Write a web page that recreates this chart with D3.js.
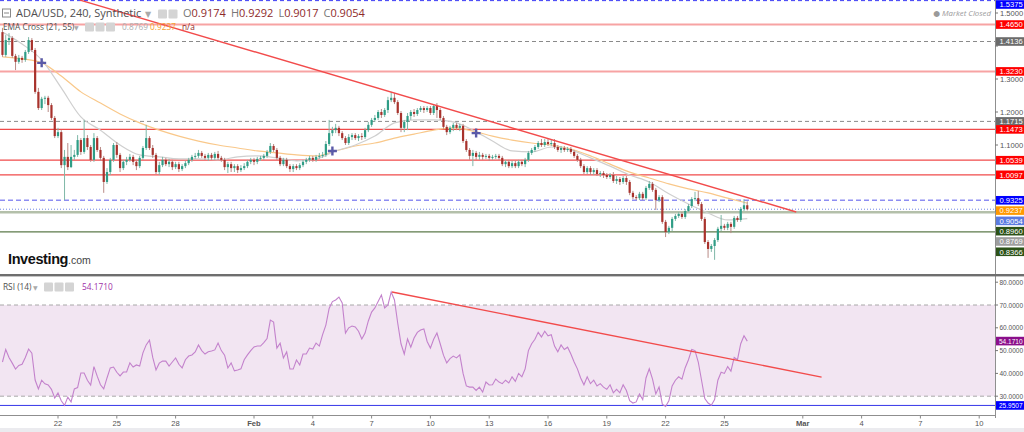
<!DOCTYPE html>
<html><head><meta charset="utf-8">
<script src="https://cdn.jsdelivr.net/npm/d3@7"></script>
<style>
body{margin:0;background:#fff;overflow:hidden}
svg{display:block;font-family:"Open Sans","DejaVu Sans",sans-serif}
.ax{font-family:"Liberation Sans",Arial,sans-serif;font-size:7.6px}
.ax .sm{font-size:6.5px}
</style></head><body>
<svg id="c" width="1024" height="432"></svg>
<script>
// ── ADA/USD 4h candles, Jan 19 → Feb 26 2019 (open = previous close) ──
const firstOpen=1.442;
const closes=[1.373,1.418,1.424,1.370,1.352,1.364,1.358,1.382,1.418,1.388,
1.261,1.212,1.240,1.243,1.221,1.182,1.127,1.139,1.039,1.064,
1.033,1.064,1.070,1.115,1.079,1.121,1.094,1.055,1.121,1.085,
1.061,0.988,1.018,1.055,1.100,1.070,1.030,1.049,1.055,1.064,
1.049,1.036,1.061,1.091,1.121,1.091,1.070,1.018,1.039,1.055,
1.042,1.049,1.033,1.042,1.027,1.036,1.045,1.055,1.064,1.067,
1.076,1.067,1.061,1.070,1.061,1.073,1.061,1.055,1.033,1.042,
1.030,1.036,1.024,1.030,1.036,1.049,1.055,1.049,1.058,1.061,
1.067,1.079,1.097,1.085,1.061,1.042,1.055,1.036,1.027,1.036,
1.030,1.039,1.049,1.055,1.061,1.055,1.064,1.067,1.070,1.103,
1.136,1.145,1.152,1.136,1.121,1.106,1.124,1.130,1.121,1.127,
1.124,1.145,1.161,1.176,1.182,1.200,1.191,1.206,1.236,1.243,
1.230,1.197,1.152,1.170,1.188,1.200,1.194,1.206,1.212,1.206,
1.212,1.197,1.218,1.206,1.182,1.155,1.139,1.152,1.161,1.152,
1.158,1.112,1.085,1.067,1.076,1.064,1.070,1.064,1.067,1.061,
1.064,1.067,1.061,1.042,1.049,1.036,1.045,1.036,1.049,1.042,
1.055,1.076,1.085,1.094,1.106,1.100,1.109,1.103,1.106,1.094,
1.085,1.091,1.085,1.088,1.079,1.067,1.055,1.036,1.018,1.030,
1.018,1.024,1.012,1.015,1.009,1.003,1.009,0.991,0.997,0.988,
1.000,0.988,0.955,0.942,0.939,0.952,0.939,0.970,0.982,0.964,
0.933,0.942,0.867,0.836,0.849,0.876,0.885,0.891,0.882,0.900,
0.915,0.936,0.939,0.921,0.876,0.806,0.785,0.794,0.812,0.846,
0.855,0.849,0.861,0.852,0.879,0.873,0.906,0.9174,0.9054];
const highs=[1.455,1.433,1.439,1.430,1.376,1.373,1.370,1.388,1.427,1.424,
1.394,1.273,1.246,1.249,1.249,1.227,1.188,1.152,1.145,1.085,
1.106,1.100,1.085,1.130,1.121,1.176,1.130,1.100,1.136,1.127,
1.094,1.067,1.030,1.061,1.106,1.109,1.076,1.055,1.064,1.073,
1.070,1.055,1.067,1.097,1.161,1.127,1.100,1.076,1.049,1.064,
1.061,1.058,1.055,1.049,1.049,1.042,1.052,1.061,1.070,1.076,
1.085,1.082,1.073,1.076,1.076,1.079,1.082,1.067,1.061,1.049,
1.049,1.042,1.042,1.039,1.045,1.055,1.061,1.061,1.064,1.067,
1.073,1.085,1.106,1.103,1.091,1.067,1.061,1.061,1.042,1.042,
1.042,1.045,1.055,1.061,1.067,1.067,1.070,1.076,1.079,1.112,
1.176,1.155,1.164,1.158,1.142,1.127,1.133,1.136,1.136,1.133,
1.136,1.152,1.170,1.182,1.191,1.206,1.209,1.212,1.246,1.261,
1.258,1.236,1.203,1.176,1.197,1.206,1.209,1.212,1.218,1.218,
1.218,1.218,1.224,1.227,1.212,1.188,1.161,1.158,1.167,1.167,
1.164,1.164,1.118,1.091,1.085,1.082,1.079,1.076,1.073,1.073,
1.070,1.073,1.073,1.067,1.055,1.055,1.052,1.052,1.055,1.055,
1.061,1.082,1.091,1.100,1.112,1.118,1.118,1.118,1.115,1.118,
1.100,1.097,1.097,1.094,1.094,1.085,1.073,1.061,1.042,1.036,
1.036,1.030,1.030,1.021,1.021,1.015,1.015,1.018,1.006,1.003,
1.006,1.006,0.994,0.961,0.948,0.958,0.958,0.976,0.991,0.988,
0.970,0.948,0.948,0.873,0.855,0.882,0.891,0.897,0.897,0.906,
0.921,0.942,0.958,0.961,0.927,0.882,0.812,0.800,0.818,0.852,
0.888,0.861,0.867,0.867,0.885,0.885,0.912,0.936,0.9292];
const lows=[1.367,1.367,1.403,1.364,1.327,1.346,1.349,1.352,1.376,1.382,
1.255,1.206,1.206,1.224,1.200,1.176,1.121,1.121,1.030,0.933,
1.024,1.030,1.055,1.064,1.070,1.073,1.085,1.049,1.049,1.079,
1.052,0.955,0.982,1.009,1.049,1.061,1.018,1.024,1.039,1.049,
1.039,1.024,1.030,1.055,1.085,1.085,1.061,1.012,1.009,1.033,
1.036,1.033,1.024,1.027,1.018,1.021,1.030,1.039,1.049,1.058,
1.061,1.061,1.055,1.052,1.055,1.055,1.055,1.049,1.024,1.015,
1.018,1.018,1.015,1.018,1.024,1.030,1.042,1.039,1.042,1.052,
1.055,1.061,1.073,1.079,1.055,1.036,1.036,1.030,1.018,1.018,
1.024,1.024,1.033,1.042,1.049,1.049,1.049,1.058,1.061,1.064,
1.097,1.127,1.136,1.127,1.115,1.100,1.100,1.115,1.115,1.112,
1.115,1.118,1.139,1.155,1.170,1.176,1.182,1.185,1.197,1.230,
1.224,1.191,1.139,1.139,1.145,1.176,1.185,1.188,1.200,1.197,
1.200,1.191,1.191,1.182,1.176,1.149,1.130,1.133,1.142,1.145,
1.142,1.106,1.079,1.055,1.036,1.055,1.055,1.055,1.058,1.052,
1.055,1.058,1.055,1.036,1.033,1.030,1.030,1.030,1.030,1.036,
1.033,1.049,1.070,1.079,1.088,1.094,1.094,1.097,1.097,1.088,
1.079,1.076,1.079,1.079,1.073,1.061,1.049,1.030,1.012,1.012,
1.009,1.009,1.006,1.003,1.000,0.997,0.997,0.985,0.982,0.979,
0.982,0.979,0.948,0.936,0.933,0.933,0.933,0.933,0.964,0.958,
0.903,0.927,0.861,0.821,0.830,0.839,0.870,0.879,0.876,0.876,
0.897,0.909,0.930,0.915,0.870,0.800,0.758,0.776,0.752,0.806,
0.839,0.842,0.842,0.833,0.846,0.867,0.867,0.900,0.9017];

// EMA Cross (21, 55), one reading per day (every 6th candle)
const ema21=[1.442,1.406,1.358,1.273,1.185,1.145,1.100,1.070,1.064,1.058,1.058,1.055,1.064,
1.067,1.061,1.052,1.058,1.082,1.100,1.127,1.167,1.176,1.176,1.170,1.145,1.112,
1.082,1.079,1.094,1.085,1.061,1.036,1.009,0.988,0.952,0.921,0.894,0.873,0.8769];
const ema55=[1.367,1.361,1.349,1.309,1.261,1.227,1.194,1.167,1.145,1.127,1.112,1.100,1.091,
1.082,1.076,1.070,1.067,1.082,1.097,1.106,1.121,1.133,1.145,1.152,1.142,1.127,
1.115,1.106,1.100,1.088,1.067,1.042,1.018,1.000,0.982,0.967,0.955,0.939,0.9237];
const crossIdx=[12,101,145], crossPx=[1.349,1.082,1.136];

// RSI (14), per candle
const rsi=[45.0,50.5,47.0,44.5,41.9,43.5,44.0,47.0,50.7,48.9,
37.1,33.2,37.0,35.4,34.9,33.0,29.2,31.4,28.0,25.95,
29.6,27.5,33.2,33.8,40.2,40.2,37.0,34.9,43.0,38.8,
35.0,33.2,38.0,42.4,42.8,40.5,38.9,40.6,40.6,44.6,
42.8,43.7,43.2,49.0,52.5,54.6,47.0,41.5,44.5,45.4,
45.4,43.2,45.0,46.8,44.0,42.4,46.0,47.6,48.1,49.4,
52.5,50.0,48.5,49.5,49.8,50.3,53.3,50.0,48.0,42.4,
44.6,41.1,41.5,42.0,46.0,48.1,50.0,51.6,52.0,52.0,
53.5,55.3,63.4,62.5,51.1,53.3,46.8,49.4,41.9,41.9,
45.9,43.7,48.5,48.5,51.1,50.7,53.3,52.0,57.0,61.2,
68.5,71.5,72.2,73.5,70.9,57.7,60.0,60.8,60.4,58.5,
55.1,57.7,63.0,66.9,68.7,71.5,74.4,68.7,70.0,75.7,
72.2,62.0,53.0,48.5,55.1,51.5,55.5,58.0,59.0,59.5,
54.0,51.1,55.0,57.7,53.0,48.0,44.6,46.5,47.6,46.8,
48.1,40.0,34.5,34.0,34.0,32.5,34.0,31.8,36.2,34.9,
35.0,37.5,36.2,35.5,37.0,35.8,38.5,36.5,40.0,38.5,
42.0,50.0,53.0,55.0,58.0,56.0,58.5,56.5,57.0,52.0,
49.5,52.5,50.5,51.5,48.5,45.0,42.0,38.0,35.0,38.5,
35.5,37.0,34.5,35.5,34.0,33.0,35.0,31.5,33.0,31.5,
35.0,32.5,28.0,27.0,27.5,31.0,28.5,38.0,42.0,37.5,
31.0,34.0,26.5,25.5,28.0,34.5,37.0,38.5,37.5,42.5,
46.0,50.5,50.0,45.0,37.0,29.0,27.0,26.0,28.5,37.0,
40.5,40.0,43.0,41.0,47.0,46.0,53.0,56.5,54.171];

// horizontal levels drawn on the price pane
const levels=[1.5375,1.4650,1.4136,1.3230,1.1715,1.1473,1.0539,1.0097,0.9325,0.8960,0.8366];
const levelKind=["blue","pink","gray","pink","gray","red","red","red","lblue","sage","olive"];
const priceTicks=[1.5,1.4,1.3,1.2,1.1,1.0,0.9];
const rsiTicks=[80,70,60,50,40,30];
const rsiMinLine=25.9507;
// trend lines: [date, value] pairs
const trendPrice=[[new Date(2019,0,23,3),1.539],[new Date(2019,1,28,16),0.897]];
const trendRsi=[[new Date(2019,1,8,1),75.7],[new Date(2019,2,1,23),38.4]];
const dateTicks=[[2019,0,22],[2019,0,25],[2019,0,28],[2019,1,1],[2019,1,4],[2019,1,7],[2019,1,10],[2019,1,13],
  [2019,1,16],[2019,1,19],[2019,1,22],[2019,1,25],[2019,2,1],[2019,2,4],[2019,2,7],[2019,2,10]];
const monthNames=["Jan","Feb","Mar"];

const svg=d3.select("#c");
const PW=995, mainB=273, rsiT=277, rsiB=415;
const x=d3.scaleTime().domain([new Date(2019,0,19),new Date(2019,2,11)]).range([-0.8,998.8]);
const y=d3.scaleLinear().domain([1.5,1.1]).range([13,145]);
const yr=d3.scaleLinear().domain([70,30]).range([305,396.2]);
const tOf=i=>new Date(2019,0,19,4+4*i);

const defs=svg.append("defs");
defs.append("clipPath").attr("id","cm").append("rect").attr("x",0).attr("y",0).attr("width",PW).attr("height",mainB);
defs.append("clipPath").attr("id","cr").append("rect").attr("x",0).attr("y",rsiT).attr("width",PW).attr("height",rsiB-rsiT);

// ── price pane ──
const main=svg.append("g").attr("clip-path","url(#cm)");
const LS={blue:{c:"#3b3bf5",w:1,d:"4,3"},pink:{c:"#f7a3a3",w:2,d:null},gray:{c:"#8a8a8a",w:1,d:"4,3"},
  red:{c:"#f04a4a",w:1.3,d:null},lblue:{c:"#8d8df2",w:1.5,d:"5,3"},sage:{c:"#b4c0aa",w:2.5,d:null},olive:{c:"#5d7a4a",w:1.2,d:null}};
levels.forEach((v,i)=>{const s=LS[levelKind[i]];
  main.append("line").attr("x1",0).attr("x2",PW).attr("y1",y(v)).attr("y2",y(v))
    .attr("stroke",s.c).attr("stroke-width",s.w).attr("stroke-dasharray",s.d);});
// last price dotted
main.append("line").attr("x1",0).attr("x2",PW).attr("y1",y(closes[closes.length-1])).attr("y2",y(closes[closes.length-1]))
  .attr("stroke","#6f86e6").attr("stroke-width",1).attr("stroke-dasharray","1,2");

const emaX=k=>x(tOf(k*6));
const eLine=d3.line().x((d,k)=>emaX(k)).y(d=>y(d)).curve(d3.curveMonotoneX);
main.append("path").attr("d",eLine(ema55)).attr("fill","none").attr("stroke","#f9c88a").attr("stroke-width",1.2);
main.append("path").attr("d",eLine(ema21)).attr("fill","none").attr("stroke","#cfcfcf").attr("stroke-width",1.2);

const candles=closes.map((c,i)=>{const o=i?closes[i-1]:firstOpen;
  return {t:tOf(i),o,c,h:Math.max(highs[i],o,c),l:Math.min(lows[i],o,c)};});
const up="#2f9d86", dn="#a8322c";
const gc=main.append("g");
gc.selectAll("line").data(candles).join("line")
  .attr("x1",d=>x(d.t)).attr("x2",d=>x(d.t)).attr("y1",d=>y(d.h)).attr("y2",d=>y(d.l))
  .attr("stroke",d=>d.c>=d.o?"#7fb8a8":"#b98a86").attr("stroke-width",1);
gc.selectAll("rect").data(candles).join("rect")
  .attr("x",d=>x(d.t)-1.1).attr("width",2.2)
  .attr("y",d=>y(Math.max(d.o,d.c))).attr("height",d=>Math.max(1,Math.abs(y(d.o)-y(d.c))))
  .attr("fill",d=>d.c>=d.o?up:dn);

main.append("line").attr("x1",x(trendPrice[0][0])).attr("y1",y(trendPrice[0][1]))
  .attr("x2",x(trendPrice[1][0])).attr("y2",y(trendPrice[1][1])).attr("stroke","#f24b4b").attr("stroke-width",1.4);

crossIdx.forEach((ix,k)=>{const cx=x(tOf(ix)),cy=y(crossPx[k]);
  main.append("path").attr("d",`M${cx-4.5},${cy}H${cx+4.5}M${cx},${cy-4.5}V${cy+4.5}`)
    .attr("stroke","#5a5aa8").attr("stroke-width",2.4);});

// ── RSI pane ──
const rp=svg.append("g").attr("clip-path","url(#cr)");
rp.append("rect").attr("x",0).attr("width",PW).attr("y",yr(70)).attr("height",yr(30)-yr(70)).attr("fill","#f2e5f2");
[70,30].forEach(v=>rp.append("line").attr("x1",0).attr("x2",PW).attr("y1",yr(v)).attr("y2",yr(v))
  .attr("stroke","#a8a8a8").attr("stroke-dasharray","4,3"));
rp.append("line").attr("x1",0).attr("x2",PW).attr("y1",yr(rsiMinLine)).attr("y2",yr(rsiMinLine)).attr("stroke","#3535e8");
rp.append("path").attr("d",d3.line().x((d,i)=>x(tOf(i))).y(d=>yr(d))(rsi))
  .attr("fill","none").attr("stroke","#c382cc").attr("stroke-width",1.1);
rp.append("line").attr("x1",x(trendRsi[0][0])).attr("y1",yr(trendRsi[0][1]))
  .attr("x2",x(trendRsi[1][0])).attr("y2",yr(trendRsi[1][1])).attr("stroke","#f24b4b").attr("stroke-width",1.3);

// ── frames ──
svg.append("line").attr("x1",PW+0.5).attr("x2",PW+0.5).attr("y1",0).attr("y2",rsiB+3).attr("stroke","#8f8f8f");
svg.append("rect").attr("x",0).attr("y",mainB+1).attr("width",1024).attr("height",2.4).attr("fill","#6e6e6e");
svg.append("line").attr("x1",0).attr("x2",PW).attr("y1",rsiB+0.5).attr("y2",rsiB+0.5).attr("stroke","#8f8f8f");
svg.append("rect").attr("x",0).attr("y",428).attr("width",1024).attr("height",4).attr("fill","#ebebef");

// ── right axes ──
const ax=svg.append("g").attr("class","ax");
const badgeFill={blue:"#0000ff",pink:"#ff0000",gray:"#6b6b6b",red:"#ff0000",lblue:"#0000ff",sage:"#2c5218",olive:"#2c5218"};
const badges=levels.map((v,i)=>({v,fill:badgeFill[levelKind[i]]}));
badges.push({v:ema55[ema55.length-1],fill:"#ff9900"},{v:closes[closes.length-1],fill:"#5b7be0"},{v:ema21[ema21.length-1],fill:"#9e9e9e"});
badges.sort((a,b)=>b.v-a.v);
let prev=-99;
badges.forEach(b=>{let cy=Math.max(4.5,y(b.v));if(cy-prev<7.5)cy=prev+10.3;prev=cy;b.cy=cy;});

priceTicks.forEach(v=>{ax.append("line").attr("x1",PW).attr("x2",PW+3).attr("y1",y(v)).attr("y2",y(v)).attr("stroke","#777");
  if(badges.some(b=>Math.abs(b.cy-y(v))<7))return;      // label sits under a price badge
  ax.append("text").attr("x",PW+5).attr("y",y(v)+2.8).attr("fill","#555").text(v.toFixed(4));});
rsiTicks.forEach(v=>{ax.append("line").attr("x1",PW).attr("x2",PW+3).attr("y1",yr(v)).attr("y2",yr(v)).attr("stroke","#777");
  ax.append("text").attr("class","sm").attr("x",PW+4.5).attr("y",yr(v)+2.5).attr("fill","#555").text(v.toFixed(4));});

badges.forEach(b=>{
  ax.append("rect").attr("x",PW+1).attr("y",b.cy-4.3).attr("width",30).attr("height",8.6).attr("fill",b.fill);
  ax.append("text").attr("x",PW+4.5).attr("y",b.cy+2.8).attr("fill","#fff").text(b.v.toFixed(4));});
[[rsi[rsi.length-1],"#8b0f8b"],[rsiMinLine,"#0000ff"]].forEach(([v,f])=>{const cy=yr(v);
  ax.append("rect").attr("x",PW+1).attr("y",cy-4.3).attr("width",30).attr("height",8.6).attr("fill",f);
  ax.append("text").attr("class","sm").attr("x",PW+4).attr("y",cy+2.5).attr("fill","#fff").text(v.toFixed(4));});

// ── date axis ──
const dx=svg.append("g").attr("class","ax");
dateTicks.forEach(([Y,M,D])=>{const t=new Date(Y,M,D),px=x(t);
  dx.append("line").attr("x1",px).attr("x2",px).attr("y1",rsiB+1).attr("y2",rsiB+3.5).attr("stroke","#888");
  dx.append("text").attr("x",px).attr("y",425.5).attr("text-anchor","middle").attr("fill","#555")
    .attr("font-weight",D===1?"bold":null).text(D===1?monthNames[M]:D);});

// ── legends ──
const icons=(g,x0,n)=>{for(let k=0;k<n;k++)g.append("rect").attr("x",x0+k*10.5).attr("y",-7.5).attr("width",9).attr("height",9)
  .attr("rx",1).attr("fill","#d4d4d4");};
const h1=svg.append("g").attr("transform","translate(0,17)");
h1.append("rect").attr("x",2.5).attr("y",-8).attr("width",8).attr("height",8).attr("fill","none").attr("stroke","#888");
h1.append("line").attr("x1",4).attr("x2",9).attr("y1",-4).attr("y2",-4).attr("stroke","#888");
h1.append("text").attr("x",16).attr("font-size","11px").attr("fill","#505050").text("ADA/USD, 240, Synthetic");
h1.append("text").attr("x",145).attr("font-size","8px").attr("fill","#aaa").text("▼");
icons(h1,158,2);
const last=candles[candles.length-1];
const ohlc=h1.append("text").attr("x",183).attr("font-size","11px");
[["O",last.o],["H",highs[highs.length-1]],["L",lows[lows.length-1]],["C",last.c]].forEach(([k,v],j)=>{
  ohlc.append("tspan").attr("fill","#777").attr("dx",j?5:0).text(k);
  ohlc.append("tspan").attr("fill","#8e2a2a").text(v.toFixed(4));});
const h2=svg.append("g").attr("transform","translate(0,30)");
h2.append("text").attr("x",3).attr("font-size","8.3px").attr("fill","#505050").text("EMA Cross (21, 55)");
h2.append("text").attr("x",74).attr("font-size","6px").attr("fill","#aaa").text("▼");
icons(h2,85,3);
h2.append("text").attr("x",122).attr("font-size","8.3px").attr("fill","#b0b0b0").text(ema21[ema21.length-1].toFixed(4));
h2.append("text").attr("x",150).attr("font-size","8.3px").attr("fill","#f5a030").text(ema55[ema55.length-1].toFixed(4));
h2.append("text").attr("x",182).attr("font-size","8.3px").attr("fill","#8e2a2a").text("n/a");
svg.append("text").attr("x",991).attr("y",16).attr("text-anchor","end").attr("font-size","7.8px").attr("fill","#9a9a9a")
  .attr("font-style","italic").text("● Market Closed");
const h3=svg.append("g").attr("transform","translate(0,290)");
h3.append("text").attr("x",3).attr("font-size","8.3px").attr("fill","#505050").text("RSI (14)");
h3.append("text").attr("x",33).attr("font-size","6px").attr("fill","#aaa").text("▼");
icons(h3,44,3);
h3.append("text").attr("x",82).attr("font-size","8.3px").attr("fill","#a030a8").text(rsi[rsi.length-1].toFixed(4));
const logo=svg.append("text").attr("x",8).attr("y",264).attr("font-family","'Liberation Sans',Arial,sans-serif");
logo.append("tspan").attr("font-size","14.5px").attr("font-weight","bold").attr("fill","#111").attr("letter-spacing","-0.4").text("Investing");
logo.append("tspan").attr("font-size","10.5px").attr("fill","#444").text(".com");
</script></body></html>
